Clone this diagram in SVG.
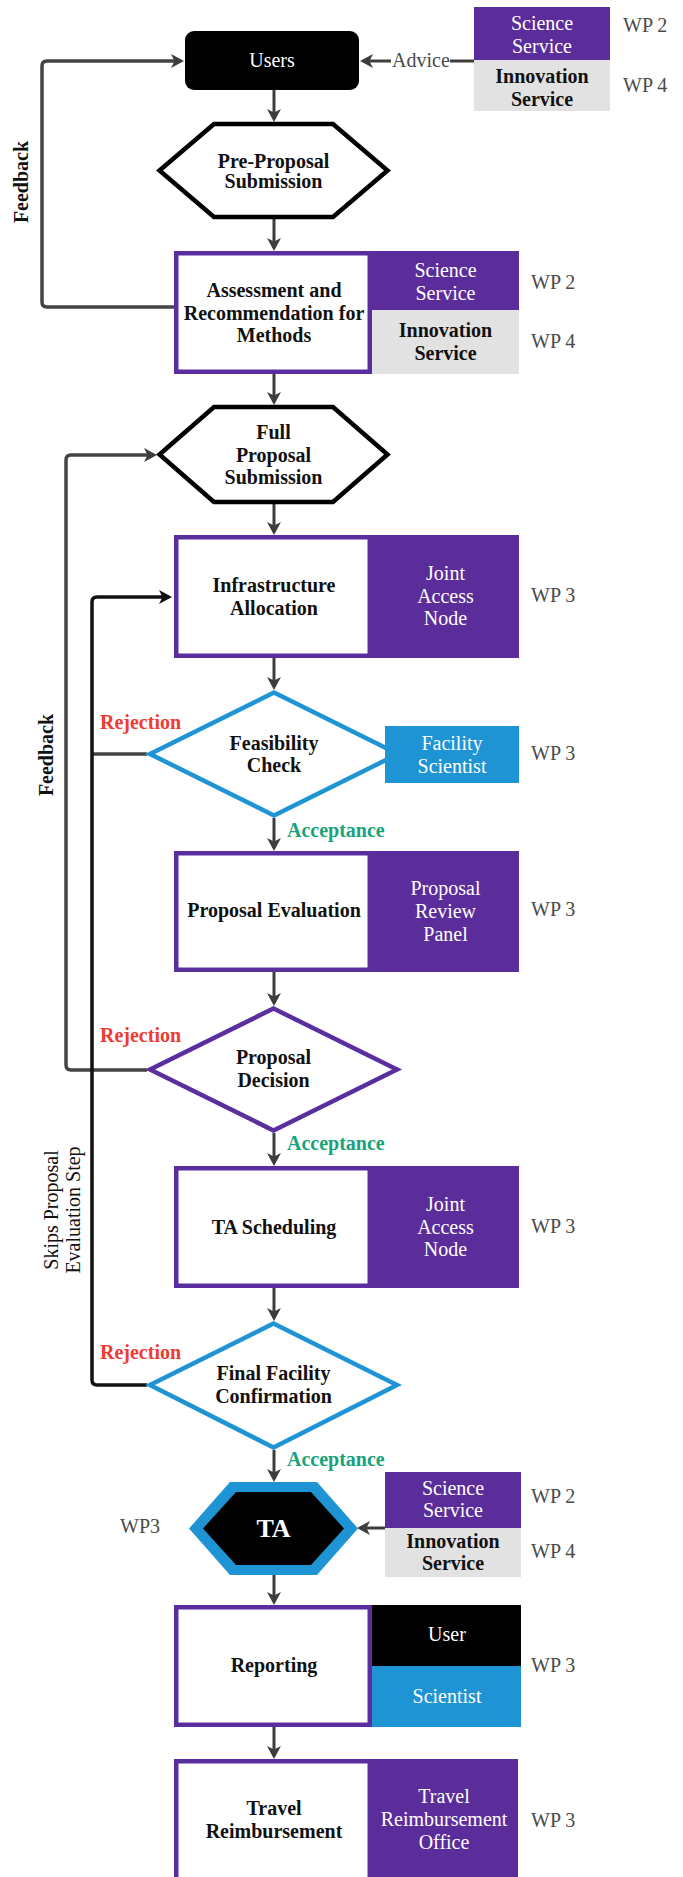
<svg xmlns="http://www.w3.org/2000/svg" width="683" height="1877" viewBox="0 0 683 1877">
<defs>
<marker id="ah" markerUnits="userSpaceOnUse" markerWidth="14" markerHeight="14" refX="10" refY="7" orient="auto"><path d="M0,0 L13,7 L0,14 L3.5,7 z" fill="#3d3d3d"/></marker>
<marker id="ahk" markerUnits="userSpaceOnUse" markerWidth="14" markerHeight="14" refX="10" refY="7" orient="auto"><path d="M0,0 L13,7 L0,14 L3.5,7 z" fill="#111"/></marker>
</defs>
<style>
text{font-family:"Liberation Serif","Times New Roman",serif;font-size:20px;fill:#111}
.b{font-weight:bold}
.c{text-anchor:middle}
.w{fill:#fff}
.wp{fill:#4a4a4a}
.rej{fill:#ef3b30;font-weight:bold}
.acc{fill:#17a37b;font-weight:bold}
.box{fill:#fff;stroke:#5b2e9f;stroke-width:4.5}
.pur{fill:#5b2d9b}
.gry{fill:#e2e2e2}
.blu{fill:#1e94d4}
.ln{fill:none;stroke:#3d3d3d;stroke-width:3}
.lg{fill:none;stroke:#444;stroke-width:3.5}
.lk{fill:none;stroke:#111;stroke-width:3.5}
</style>
<rect x="0" y="0" width="683" height="1877" fill="#fff"/>

<g id="connectors">
<line class="ln" x1="274" y1="90" x2="274" y2="119" marker-end="url(#ah)"/>
<line class="ln" x1="274" y1="219" x2="274" y2="248" marker-end="url(#ah)"/>
<line class="ln" x1="274" y1="374" x2="274" y2="402" marker-end="url(#ah)"/>
<line class="ln" x1="274" y1="504" x2="274" y2="532" marker-end="url(#ah)"/>
<line class="ln" x1="274" y1="658" x2="274" y2="687" marker-end="url(#ah)"/>
<line class="ln" x1="274" y1="818" x2="274" y2="848" marker-end="url(#ah)"/>
<line class="ln" x1="274" y1="972" x2="274" y2="1003" marker-end="url(#ah)"/>
<line class="ln" x1="274" y1="1133" x2="274" y2="1163" marker-end="url(#ah)"/>
<line class="ln" x1="274" y1="1288" x2="274" y2="1318" marker-end="url(#ah)"/>
<line class="ln" x1="274" y1="1450" x2="274" y2="1479" marker-end="url(#ah)"/>
<line class="ln" x1="274" y1="1575" x2="274" y2="1602" marker-end="url(#ah)"/>
<line class="ln" x1="274" y1="1727" x2="274" y2="1756" marker-end="url(#ah)"/>
<!-- advice -->
<line class="ln" x1="474" y1="61" x2="450" y2="61"/>
<line class="ln" x1="391" y1="61" x2="363" y2="61" marker-end="url(#ah)"/>
<text class="wp" x="392" y="67">Advice</text>
<!-- feedback 1 -->
<path class="lg" d="M174,307 H47 Q42,307 42,302 V66 Q42,61 47,61 H181" marker-end="url(#ah)"/>
<text class="b" transform="translate(28,182) rotate(-90)" text-anchor="middle">Feedback</text>
<!-- feedback 2 -->
<path class="lg" d="M147,1070 H71 Q66,1070 66,1065 V460 Q66,455 71,455 H154" marker-end="url(#ah)"/>
<text class="b" transform="translate(53,755) rotate(-90)" text-anchor="middle">Feedback</text>
<!-- feasibility rejection -->
<line class="lg" x1="147" y1="754" x2="92" y2="754"/>
<!-- skip loop -->
<path class="lk" d="M147,1385 H97 Q92,1385 92,1380 V602 Q92,597 97,597 H169" marker-end="url(#ahk)"/>
<text transform="translate(58,1210) rotate(-90)" text-anchor="middle">Skips Proposal</text>
<text transform="translate(80,1210) rotate(-90)" text-anchor="middle">Evaluation Step</text>
<!-- TA side arrow -->
<line class="ln" x1="385" y1="1528" x2="360" y2="1528" marker-end="url(#ah)"/>
<text class="rej" x="100" y="729">Rejection</text>
<text class="rej" x="100" y="1042">Rejection</text>
<text class="rej" x="100" y="1359">Rejection</text>
<text class="acc" x="287" y="837">Acceptance</text>
<text class="acc" x="287" y="1150">Acceptance</text>
<text class="acc" x="287" y="1466">Acceptance</text>
</g>

<g id="users">
<rect x="185" y="31" width="174" height="59" rx="9" fill="#000"/>
<text class="w c" x="272" y="67">Users</text>
</g>

<g id="services-top">
<rect class="pur" x="474" y="7" width="136" height="53"/>
<rect class="gry" x="474" y="60" width="136" height="51"/>
<text class="w c" x="542" y="30">Science</text>
<text class="w c" x="542" y="53">Service</text>
<text class="b c" x="542" y="83">Innovation</text>
<text class="b c" x="542" y="106">Service</text>
<text class="wp" x="623" y="32">WP 2</text>
<text class="wp" x="623" y="92">WP 4</text>
</g>

<g id="pre-proposal">
<polygon points="159.5,170.5 214,124 333,124 387.5,170.5 333,217 214,217" fill="#fff" stroke="#000" stroke-width="4.5" stroke-linejoin="miter"/>
<text class="b c" x="273.5" y="168">Pre-Proposal</text>
<text class="b c" x="273.5" y="188">Submission</text>
</g>

<g id="assessment">
<rect class="pur" x="372" y="251" width="147" height="59"/>
<rect class="gry" x="372" y="310" width="147" height="64"/>
<rect class="box" x="176.25" y="253.25" width="193.5" height="118.5"/>
<text class="b c" x="274" y="297">Assessment and</text>
<text class="b c" x="274" y="319.5">Recommendation for</text>
<text class="b c" x="274" y="342">Methods</text>
<text class="w c" x="445.5" y="277">Science</text>
<text class="w c" x="445.5" y="300">Service</text>
<text class="b c" x="445.5" y="337">Innovation</text>
<text class="b c" x="445.5" y="360">Service</text>
<text class="wp" x="531" y="289">WP 2</text>
<text class="wp" x="531" y="348">WP 4</text>
</g>

<g id="full-proposal">
<polygon points="159.5,454.5 214,407 333,407 387.5,454.5 333,502 214,502" fill="#fff" stroke="#000" stroke-width="4.5"/>
<text class="b c" x="273.5" y="439">Full</text>
<text class="b c" x="273.5" y="461.5">Proposal</text>
<text class="b c" x="273.5" y="484">Submission</text>
</g>

<g id="infrastructure">
<rect class="pur" x="372" y="535" width="147" height="123"/>
<rect class="box" x="176.25" y="537.25" width="193.5" height="118.5"/>
<text class="b c" x="274" y="592">Infrastructure</text>
<text class="b c" x="274" y="615">Allocation</text>
<text class="w c" x="445.5" y="580">Joint</text>
<text class="w c" x="445.5" y="602.5">Access</text>
<text class="w c" x="445.5" y="625">Node</text>
<text class="wp" x="531" y="602">WP 3</text>
</g>

<g id="feasibility">
<polygon points="150,754 274,692.5 398,754 274,815.5" fill="#fff" stroke="#1e94d4" stroke-width="4.5"/>
<text class="b c" x="274" y="750">Feasibility</text>
<text class="b c" x="274" y="772">Check</text>
<rect class="blu" x="385" y="726" width="134" height="57"/>
<text class="w c" x="452" y="750">Facility</text>
<text class="w c" x="452" y="773">Scientist</text>
<text class="wp" x="531" y="760">WP 3</text>
</g>

<g id="proposal-evaluation">
<rect class="pur" x="372" y="851" width="147" height="121"/>
<rect class="box" x="176.25" y="853.25" width="193.5" height="116.5"/>
<text class="b c" x="274" y="917">Proposal Evaluation</text>
<text class="w c" x="445.5" y="895">Proposal</text>
<text class="w c" x="445.5" y="918">Review</text>
<text class="w c" x="445.5" y="941">Panel</text>
<text class="wp" x="531" y="916">WP 3</text>
</g>

<g id="proposal-decision">
<polygon points="150,1069.5 273.5,1008.5 397,1069.5 273.5,1130.5" fill="#fff" stroke="#5b2e9f" stroke-width="4.5"/>
<text class="b c" x="273.5" y="1064">Proposal</text>
<text class="b c" x="273.5" y="1087">Decision</text>
</g>

<g id="ta-scheduling">
<rect class="pur" x="372" y="1166" width="147" height="122"/>
<rect class="box" x="176.25" y="1168.25" width="193.5" height="117.5"/>
<text class="b c" x="274" y="1234">TA Scheduling</text>
<text class="w c" x="445.5" y="1211">Joint</text>
<text class="w c" x="445.5" y="1233.5">Access</text>
<text class="w c" x="445.5" y="1256">Node</text>
<text class="wp" x="531" y="1233">WP 3</text>
</g>

<g id="final-confirmation">
<polygon points="150,1385 273.5,1323.5 397,1385 273.5,1447.5" fill="#fff" stroke="#1e94d4" stroke-width="4.5"/>
<text class="b c" x="273.5" y="1380">Final Facility</text>
<text class="b c" x="273.5" y="1403">Confirmation</text>
</g>

<g id="ta">
<polygon points="189,1528.5 230,1482 317,1482 358,1528.5 317,1575 230,1575" fill="#1e94d4"/>
<polygon points="203,1528.5 236,1492 311,1492 344,1528.5 311,1565 236,1565" fill="#000"/>
<text class="b c w" x="273.5" y="1537" style="font-size:26px">TA</text>
<text class="wp" x="120" y="1533">WP3</text>
<rect class="pur" x="385" y="1472" width="136" height="56"/>
<rect class="gry" x="385" y="1528" width="136" height="49"/>
<text class="w c" x="453" y="1495">Science</text>
<text class="w c" x="453" y="1517">Service</text>
<text class="b c" x="453" y="1548">Innovation</text>
<text class="b c" x="453" y="1570">Service</text>
<text class="wp" x="531" y="1503">WP 2</text>
<text class="wp" x="531" y="1558">WP 4</text>
</g>

<g id="reporting">
<rect x="372" y="1605" width="149" height="61" fill="#000"/>
<rect class="blu" x="372" y="1666" width="149" height="61"/>
<rect class="box" x="176.25" y="1607.25" width="193.5" height="117.5"/>
<text class="b c" x="274" y="1672">Reporting</text>
<text class="w c" x="447" y="1641">User</text>
<text class="w c" x="447" y="1703">Scientist</text>
<text class="wp" x="531" y="1672">WP 3</text>
</g>

<g id="travel">
<rect class="pur" x="370" y="1759" width="148" height="130"/>
<rect class="box" x="176.25" y="1761.25" width="193.5" height="130"/>
<text class="b c" x="274" y="1815">Travel</text>
<text class="b c" x="274" y="1838">Reimbursement</text>
<text class="w c" x="444" y="1803">Travel</text>
<text class="w c" x="444" y="1826">Reimbursement</text>
<text class="w c" x="444" y="1849">Office</text>
<text class="wp" x="531" y="1827">WP 3</text>
</g>
</svg>
